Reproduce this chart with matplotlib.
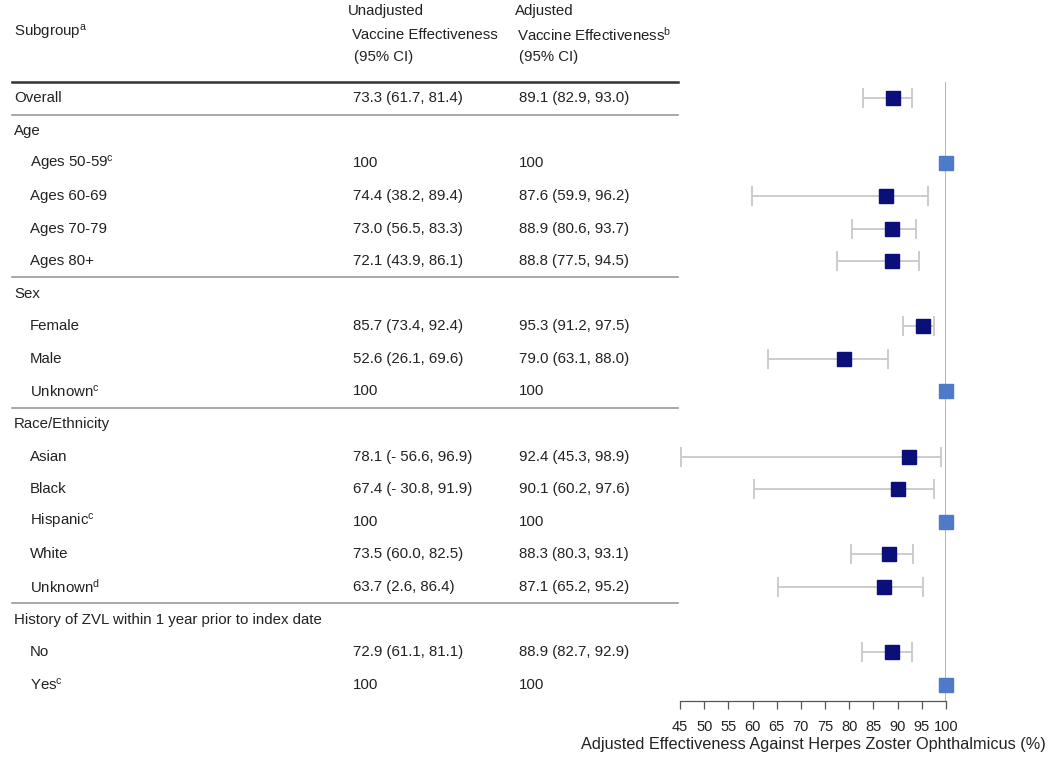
import matplotlib
matplotlib.use("Agg")
import matplotlib.pyplot as plt
from matplotlib.transforms import blended_transform_factory

plt.rcParams['font.family'] = ['Liberation Sans', 'DejaVu Sans']
plt.rcParams['mathtext.fontset'] = 'custom'
plt.rcParams['mathtext.rm'] = 'Liberation Sans'
plt.rcParams['mathtext.it'] = 'Liberation Sans'

# ---- data ----
labels = ["Overall", "Age", "Ages 50-59$^{\\mathrm{c}}$", "Ages 60-69", "Ages 70-79", "Ages 80+",
          "Sex", "Female", "Male", "Unknown$^{\\mathrm{c}}$",
          "Race/Ethnicity", "Asian", "Black", "Hispanic$^{\\mathrm{c}}$", "White", "Unknown$^{\\mathrm{d}}$",
          "History of ZVL within 1 year prior to index date", "No", "Yes$^{\\mathrm{c}}$"]
indent = [False, False, True, True, True, True,
          False, True, True, True,
          False, True, True, True, True, True,
          False, True, True]
unadj_text = ["73.3 (61.7, 81.4)", "", "100", "74.4 (38.2, 89.4)", "73.0 (56.5, 83.3)", "72.1 (43.9, 86.1)",
              "", "85.7 (73.4, 92.4)", "52.6 (26.1, 69.6)", "100",
              "", "78.1 (- 56.6, 96.9)", "67.4 (- 30.8, 91.9)", "100", "73.5 (60.0, 82.5)", "63.7 (2.6, 86.4)",
              "", "72.9 (61.1, 81.1)", "100"]
adj_text = ["89.1 (82.9, 93.0)", "", "100", "87.6 (59.9, 96.2)", "88.9 (80.6, 93.7)", "88.8 (77.5, 94.5)",
            "", "95.3 (91.2, 97.5)", "79.0 (63.1, 88.0)", "100",
            "", "92.4 (45.3, 98.9)", "90.1 (60.2, 97.6)", "100", "88.3 (80.3, 93.1)", "87.1 (65.2, 95.2)",
            "", "88.9 (82.7, 92.9)", "100"]
adj_est = [89.1, None, 100, 87.6, 88.9, 88.8, None, 95.3, 79.0, 100,
           None, 92.4, 90.1, 100, 88.3, 87.1, None, 88.9, 100]
adj_lo = [82.9, None, None, 59.9, 80.6, 77.5, None, 91.2, 63.1, None,
          None, 45.3, 60.2, None, 80.3, 65.2, None, 82.7, None]
adj_hi = [93.0, None, None, 96.2, 93.7, 94.5, None, 97.5, 88.0, None,
          None, 98.9, 97.6, None, 93.1, 95.2, None, 92.9, None]
xticks = [45, 50, 55, 60, 65, 70, 75, 80, 85, 90, 95, 100]
separators_after = [0, 5, 9, 15]

W, H = 1052, 763
fig = plt.figure(figsize=(W / 100, H / 100), dpi=100)
fig.patch.set_facecolor('white')

def fx(px):
    return px / W

def fy(py):
    return 1 - py / H

n = len(labels)
ax = fig.add_axes([fx(680), fy(701), fx(946) - fx(680), fy(82) - fy(701)])
ax.set_xlim(45, 100)
ax.set_ylim(n - 0.5, -0.5)

navy = '#0a0f7a'
light = '#4f79c9'
gray = '#c8c8c8'

ax.axvline(100, color='#a8a8a8', lw=1.2, zorder=1)

for i in range(n):
    e = adj_est[i]
    if e is None:
        continue
    if adj_lo[i] is not None:
        ax.errorbar([e], [i], xerr=[[e - adj_lo[i]], [adj_hi[i] - e]], fmt='none',
                    ecolor=gray, elinewidth=1.3, capsize=7, capthick=1.3, zorder=2)
        ax.plot([e], [i], marker='s', ms=10.5, color=navy, mec=navy, ls='none', zorder=3, clip_on=False)
    else:
        ax.plot([e], [i], marker='s', ms=9.5, color=light, mec=light, ls='none', zorder=3, clip_on=False)

for s in ['top', 'right', 'left']:
    ax.spines[s].set_visible(False)
ax.spines['bottom'].set_color('#555555')
ax.spines['bottom'].set_linewidth(0.9)
ax.set_yticks([])
ax.set_xticks(xticks)
ax.set_xticklabels([str(t) for t in xticks], fontsize=10.5, color='#222222')
ax.tick_params(axis='x', direction='out', length=6, width=0.9, color='#555555', pad=8)
ax.set_xlabel("Adjusted Effectiveness Against Herpes Zoster Ophthalmicus (%)", fontsize=11.7,
              color='#222222', labelpad=2)
ax.patch.set_alpha(0)

# ---- table text ----
tr = blended_transform_factory(fig.transFigure, ax.transData)
fs = 10.8
tc = '#222222'
for i in range(n):
    x0 = 30 if indent[i] else 14
    ax.text(fx(x0), i, labels[i], transform=tr, fontsize=fs, color=tc, va='center', ha='left')
    if unadj_text[i]:
        ax.text(fx(353), i, unadj_text[i], transform=tr, fontsize=fs, color=tc, va='center', ha='left')
    if adj_text[i]:
        ax.text(fx(519), i, adj_text[i], transform=tr, fontsize=fs, color=tc, va='center', ha='left')

# separators
ax.plot([fx(12), fx(678)], [-0.5, -0.5], transform=tr, color='#333333', lw=1.8, clip_on=False)
for s in separators_after:
    ax.plot([fx(12), fx(678)], [s + 0.5, s + 0.5], transform=tr, color='#9a9a9a', lw=1.2, clip_on=False)

# header
fig.text(fx(14), fy(32), "Subgroup$^{\\mathrm{a}}$", fontsize=fs, color=tc, va='center', ha='left')
fig.text(fx(348), fy(11), "Unadjusted", fontsize=fs, color=tc, va='center', ha='left')
fig.text(fx(352), fy(35), "Vaccine Effectiveness", fontsize=fs, color=tc, va='center', ha='left')
fig.text(fx(354), fy(57), "(95% CI)", fontsize=fs, color=tc, va='center', ha='left')
fig.text(fx(515), fy(11), "Adjusted", fontsize=fs, color=tc, va='center', ha='left')
fig.text(fx(517), fy(35), "Vaccine Effectiveness$^{\\mathrm{b}}$", fontsize=fs, color=tc, va='center', ha='left')
fig.text(fx(519), fy(57), "(95% CI)", fontsize=fs, color=tc, va='center', ha='left')

fig.savefig("out.png", dpi=100, facecolor='white')
